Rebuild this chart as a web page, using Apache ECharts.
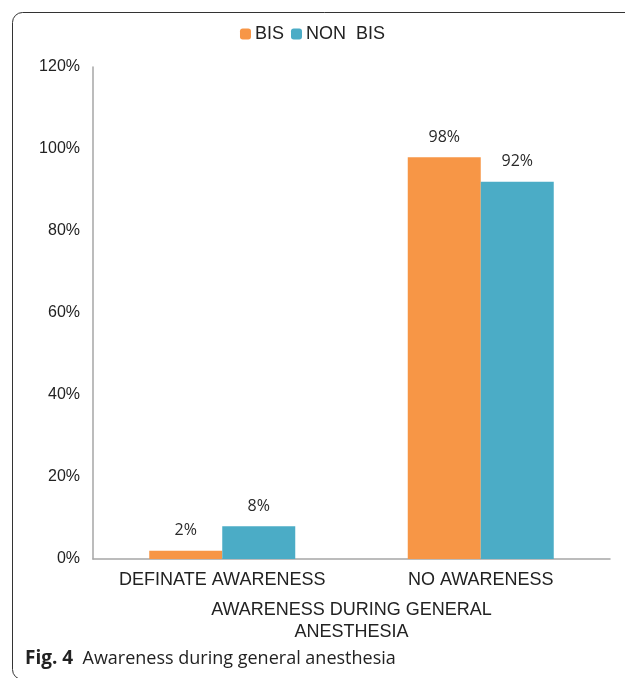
<!DOCTYPE html>
<html>
<head>
<meta charset="utf-8">
<style>
  html, body { margin: 0; padding: 0; background: #fff; }
  #chart { width: 625px; height: 678px; }
</style>
<script src="https://cdn.jsdelivr.net/npm/echarts@6/dist/echarts.min.js"></script>
</head>
<body>
<div id="chart"></div>
<script>
// Awareness categories and the share of patients in each group (%)
const categories = ['DEFINATE AWARENESS', 'NO AWARENESS'];
const bisValues = [2, 98];
const nonBisValues = [8, 92];
const seriesNames = ['BIS', 'NON  BIS'];
const axisTitle = 'AWARENESS DURING GENERAL\nANESTHESIA';

const chart = echarts.init(document.getElementById('chart'), null, { renderer: 'canvas' });

const labelStyle = {
  show: true,
  position: 'top',
  distance: 12,
  formatter: p => p.value + '%',
  fontFamily: '"Open Sans", "Noto Sans", sans-serif',
  fontSize: 16,
  color: '#2a2a2a'
};

chart.setOption({
  animation: false,
  backgroundColor: '#fff',
  textStyle: { fontFamily: '"Liberation Sans", Arial, sans-serif' },
  legend: {
    top: 20,
    left: 'center',
    itemWidth: 11,
    itemHeight: 11,
    itemGap: 7,
    textStyle: { fontSize: 18, color: '#222', padding: [0, 0, 0, -1] },
    data: seriesNames
  },
  grid: { left: 93, right: 15, top: 67, bottom: 119 },
  xAxis: {
    type: 'category',
    data: categories,
    axisLine: { lineStyle: { color: '#a6a6a6', width: 1.5 } },
    axisTick: { show: false },
    axisLabel: { fontSize: 18, color: '#222', margin: 12, interval: 0 },
    name: axisTitle,
    nameLocation: 'middle',
    nameGap: 40,
    nameTextStyle: { fontSize: 18, color: '#222', lineHeight: 22 }
  },
  yAxis: {
    type: 'value',
    min: 0,
    max: 120,
    interval: 20,
    axisLine: { show: true, lineStyle: { color: '#a6a6a6', width: 1.5 } },
    axisTick: { show: false },
    splitLine: { show: false },
    axisLabel: { fontSize: 16, color: '#222', margin: 13, formatter: '{value}%' }
  },
  series: [
    {
      name: seriesNames[0],
      type: 'bar',
      data: bisValues,
      barWidth: 73,
      barGap: '0%',
      itemStyle: { color: '#F79646' },
      label: labelStyle
    },
    {
      name: seriesNames[1],
      type: 'bar',
      data: nonBisValues,
      barWidth: 73,
      barGap: '0%',
      itemStyle: { color: '#4BACC6' },
      label: labelStyle
    }
  ],
  graphic: [
    {
      type: 'rect',
      left: 10,
      top: 10,
      shape: { width: 660, height: 667, r: 10 },
      style: { fill: 'none', stroke: '#333', lineWidth: 1 },
      silent: true,
      z: -1
    },
    {
      type: 'text',
      left: 25,
      top: 649,
      style: {
        text: '{b|Fig. 4}  {t|Awareness during general anesthesia}',
        font: '18px "Open Sans", "Noto Sans", sans-serif',
        fill: '#222',
        rich: {
          b: { fontWeight: 'bold', fontSize: 19, fontFamily: '"Open Sans", "Noto Sans", sans-serif', fill: '#222' },
          t: { fontSize: 18, fontFamily: '"Open Sans", "Noto Sans", sans-serif', fill: '#222' }
        }
      }
    }
  ]
});
</script>
</body>
</html>
